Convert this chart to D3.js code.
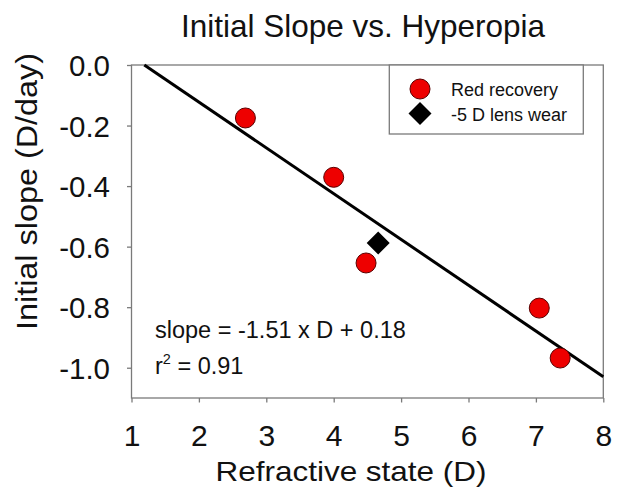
<!DOCTYPE html>
<html><head><meta charset="utf-8">
<script src="https://cdn.jsdelivr.net/npm/d3@7"></script>
<style>body{margin:0;background:#fff}svg{display:block}text{font-family:"Liberation Sans",Arial,sans-serif;fill:#111}</style>
</head><body>
<svg id="c" width="621" height="496"></svg>
<script>
const redX = [2.69, 4.0, 4.48, 7.05, 7.36];
const redY = [-0.175, -0.371, -0.654, -0.803, -0.968];
const lensX = [4.66];
const lensY = [-0.588];
const fitX = [1.19, 8.0];
const fitY = [0.0, -1.03];
const xTicks = [1, 2, 3, 4, 5, 6, 7, 8];
const yTicks = [0, -0.2, -0.4, -0.6, -0.8, -1.0];
const yTickLabels = ["0.0", "-0.2", "-0.4", "-0.6", "-0.8", "-1.0"];
const legendLabels = ["Red recovery", "-5 D lens wear"];
const title = "Initial Slope vs. Hyperopia";
const xTitle = "Refractive state (D)";
const yTitle = "Initial slope (D/day)";

const L = 131.5, R = 603.3, T = 65, B = 398;
const svg = d3.select("#c");
const x = d3.scaleLinear().domain([1, 8]).range([L, R]);
const y = d3.scaleLinear().domain([-1.1, 0]).range([B, T]);
const frame = "#7a7a7a";

// frame
svg.append("rect").attr("x", L).attr("y", T).attr("width", R - L).attr("height", B - T)
  .attr("fill", "none").attr("stroke", frame).attr("stroke-width", 1.3);

// axes
const xa = svg.append("g").attr("transform", `translate(0,${B})`)
  .call(d3.axisBottom(x).tickValues(xTicks).tickSize(4.5).tickPadding(22).tickFormat(d3.format("d")));
const ya = svg.append("g").attr("transform", `translate(${L},0)`)
  .call(d3.axisLeft(y).tickValues(yTicks).tickSize(4.5).tickPadding(17).tickFormat((d, i) => yTickLabels[i]));
[xa, ya].forEach(g => {
  g.select(".domain").remove();
  g.selectAll(".tick line").attr("stroke", frame).attr("stroke-width", 1.3);
  g.selectAll("text").attr("fill", "#111").attr("font-family", '"Liberation Sans",Arial,sans-serif');
});
xa.selectAll("text").attr("font-size", 30).attr("dy", "0.71em");
ya.selectAll("text").attr("font-size", 29.5).attr("dy", "0.36em");

// fit line
svg.append("path").datum(fitX.map((v, i) => [v, fitY[i]]))
  .attr("d", d3.line().x(d => x(d[0])).y(d => y(d[1])))
  .attr("stroke", "#000").attr("stroke-width", 3).attr("fill", "none");

// points
const diamond = s => `M0,${-s}L${s},0L0,${s}L${-s},0Z`;
svg.append("g").selectAll("circle").data(redX.map((v, i) => [v, redY[i]])).join("circle")
  .attr("cx", d => x(d[0])).attr("cy", d => y(d[1])).attr("r", 10)
  .attr("fill", "#ee0000").attr("stroke", "#5a0000").attr("stroke-width", 1);
svg.append("g").selectAll("path").data(lensX.map((v, i) => [v, lensY[i]])).join("path")
  .attr("transform", d => `translate(${x(d[0])},${y(d[1])})`).attr("d", diamond(11.5))
  .attr("fill", "#000");

// legend
svg.append("rect").attr("x", 389.3).attr("y", T).attr("width", 194).attr("height", 69)
  .attr("fill", "#fff").attr("stroke", frame).attr("stroke-width", 1.3);
svg.append("circle").attr("cx", 420).attr("cy", 89).attr("r", 10)
  .attr("fill", "#ee0000").attr("stroke", "#5a0000").attr("stroke-width", 1);
svg.append("path").attr("transform", "translate(420,113.5)").attr("d", diamond(11.5)).attr("fill", "#000");
svg.append("text").attr("x", 451).attr("y", 96).attr("font-size", 18).text(legendLabels[0]);
svg.append("text").attr("x", 451).attr("y", 121).attr("font-size", 18).text(legendLabels[1]);

// annotation
svg.append("text").attr("x", 155).attr("y", 337.5).attr("font-size", 23.5).text("slope = -1.51 x D + 0.18");
const r2 = svg.append("text").attr("x", 155).attr("y", 374).attr("font-size", 23.5);
r2.append("tspan").text("r");
r2.append("tspan").attr("font-size", 14.5).attr("dy", -10).text("2");
r2.append("tspan").attr("dy", 10).text(" = 0.91");

// titles
svg.append("text").attr("x", 363).attr("y", 36.7).attr("text-anchor", "middle").attr("font-size", 31.5).text(title);
svg.append("text").attr("x", 351).attr("y", 481).attr("text-anchor", "middle").attr("font-size", 28)
  .attr("textLength", 271).attr("lengthAdjust", "spacingAndGlyphs").text(xTitle);
svg.append("text").attr("transform", "translate(36.5,191.5) rotate(-90)").attr("text-anchor", "middle")
  .attr("font-size", 30).attr("textLength", 277).attr("lengthAdjust", "spacingAndGlyphs").text(yTitle);
</script>
</body></html>
